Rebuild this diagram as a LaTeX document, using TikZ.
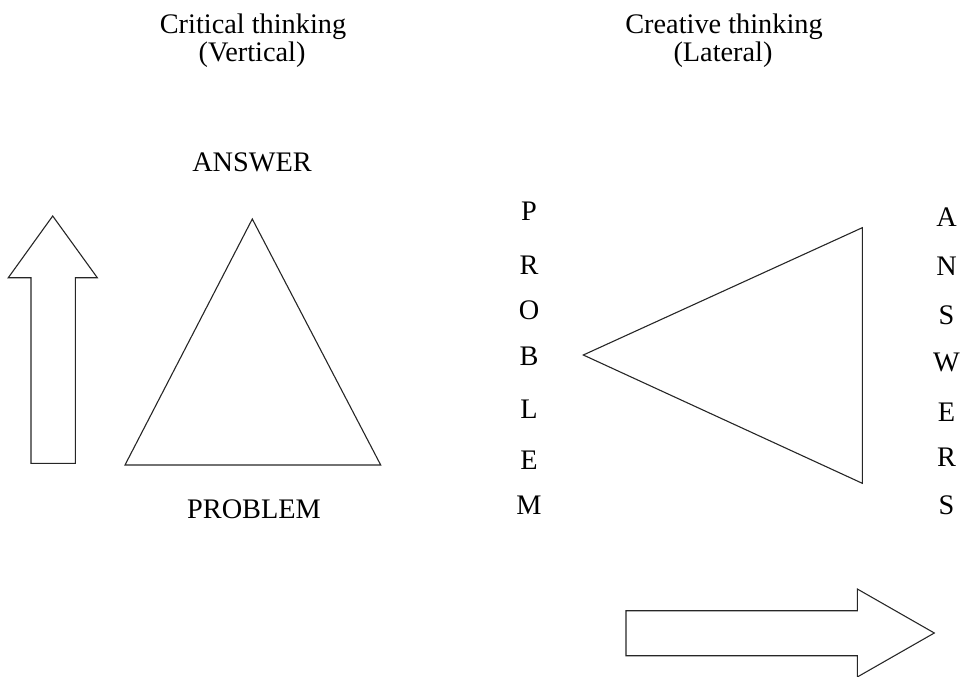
\documentclass[tikz,border=0pt]{standalone}
\usepackage{fontspec}
\setmainfont{Liberation Serif}
\begin{document}
\begin{tikzpicture}[x=1pt,y=-1pt,
  lbl/.style={font=\fontsize{28.3}{28}\selectfont, inner sep=0pt, anchor=base},
  shp/.style={draw=black!85, line width=1.1pt, line join=miter}]
\useasboundingbox (0,0) rectangle (962,677);
% titles
\node[lbl] (t1) at (253,34) {Critical thinking};
\node[lbl] (t1b) at (252,62) {(Vertical)};
\node[lbl] (t2) at (724,34) {Creative thinking};
\node[lbl] (t2b) at (723,62) {(Lateral)};
% left side
\node[lbl] (ans) at (252,171.5) {ANSWER};
\node[lbl] (prob) at (254,518) {PROBLEM};
\draw[shp] (52.7,216) -- (97.3,277.7) -- (75.3,277.7) -- (75.3,463.3) -- (31,463.3) -- (31,277.7) -- (8.3,277.7) -- cycle;
\draw[shp] (252.3,219) -- (380.7,465) -- (125,465) -- cycle;
% right side
\foreach \l/\y [count=\i] in {P/220,R/274,O/319,B/365,L/418,E/469,M/514}
  \node[lbl] (p\i) at (529,\y) {\l};
\foreach \l/\y [count=\i] in {A/226,N/275,S/324,W/371.5,E/421,R/466,S/514}
  \node[lbl] (a\i) at (946.5,\y) {\l};
\draw[shp] (583.3,355) -- (862.3,227.7) -- (862.3,483.3) -- cycle;
\draw[shp] (626,610.7) -- (857.3,610.7) -- (857.3,589) -- (934.3,633) -- (857.3,677) -- (857.3,655.7) -- (626,655.7) -- cycle;
\end{tikzpicture}
\end{document}
